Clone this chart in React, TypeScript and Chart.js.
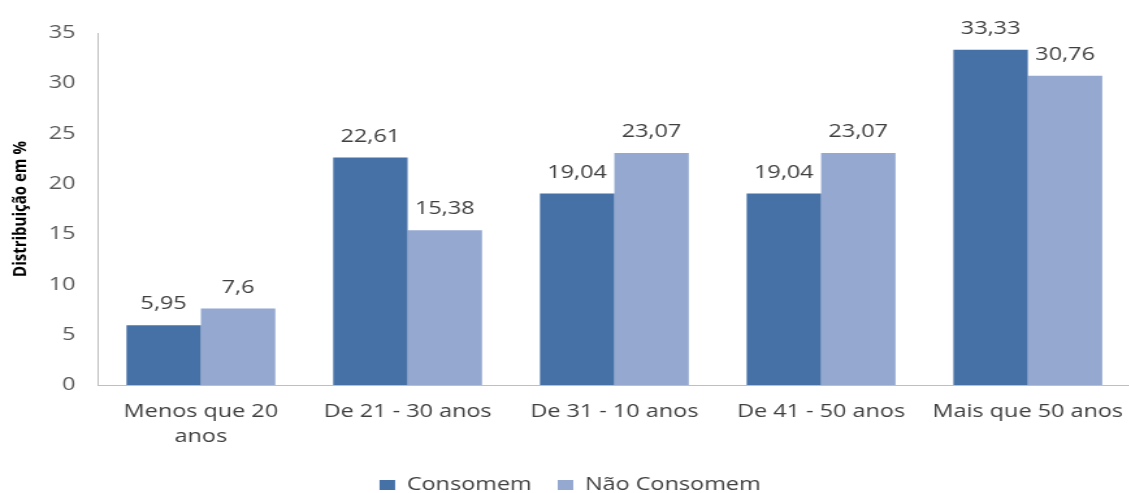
import React, { useEffect, useRef } from "react";
import { Chart, registerables } from "chart.js";

Chart.register(...registerables);

// Age groups on the x axis
const categories: (string | string[])[] = [
  ["Menos que 20", "anos"],
  "De 21 - 30 anos",
  "De 31 - 10 anos",
  "De 41 - 50 anos",
  "Mais que 50 anos",
];

// Share of each group (%)
const consomem = [5.95, 22.61, 19.04, 19.04, 33.33];
const naoConsomem = [7.6, 15.38, 23.07, 23.07, 30.76];

const seriesNames = ["Consomem", "Não Consomem"];
const yAxisTitle = "Distribuição em %";
const yMin = 0;
const yMax = 35;
const yStep = 5;

const FONT = "'Open Sans', sans-serif";
const STRETCH = 1.3; // horizontal stretch applied to the whole drawing
const CANVAS_W = 878;
const CANVAS_H = 504;

const fmt = (v: number) => String(v).replace(".", ",");

// Writes each bar's value above it
const valueLabels = {
  id: "valueLabels",
  afterDatasetsDraw(chart: any) {
    const { ctx } = chart;
    ctx.save();
    ctx.font = `18px ${FONT}`;
    ctx.fillStyle = "#404040";
    ctx.textAlign = "center";
    ctx.textBaseline = "middle";
    chart.data.datasets.forEach((ds: any, i: number) => {
      const meta = chart.getDatasetMeta(i);
      meta.data.forEach((bar: any, j: number) => {
        ctx.fillText(fmt(ds.data[j]), bar.x, bar.y - 21);
      });
    });
    ctx.restore();
  },
};

export default function App() {
  const ref = useRef<HTMLCanvasElement>(null);

  useEffect(() => {
    if (!ref.current) return;
    const chart = new Chart(ref.current, {
      type: "bar",
      data: {
        labels: categories,
        datasets: [
          {
            label: seriesNames[0],
            data: consomem,
            backgroundColor: "#4671A7",
            categoryPercentage: 0.72,
            barPercentage: 1,
          },
          {
            label: seriesNames[1],
            data: naoConsomem,
            backgroundColor: "#94A8D0",
            categoryPercentage: 0.72,
            barPercentage: 1,
          },
        ],
      },
      options: {
        animation: false,
        responsive: false,
        devicePixelRatio: 1,
        layout: { padding: { top: 33, left: 0, right: 1, bottom: 0 } },
        plugins: {
          tooltip: { enabled: false },
          legend: {
            position: "bottom",
            labels: {
              boxWidth: 12,
              boxHeight: 10,
              padding: 20,
              color: "#404040",
              font: { family: FONT, size: 18 },
            },
          },
        },
        scales: {
          x: {
            grid: { display: false, drawTicks: false },
            border: { display: true, color: "#BFBFBF", width: 1 },
            ticks: {
              color: "#404040",
              font: { family: FONT, size: 18, lineHeight: 1.4 },
              padding: 14,
              maxRotation: 0,
              minRotation: 0,
              autoSkip: false,
            },
            afterFit(scale: any) {
              scale.height = 71;
            },
          },
          y: {
            min: yMin,
            max: yMax,
            grid: { display: false, drawTicks: false },
            border: { display: true, color: "#BFBFBF", width: 1 },
            ticks: {
              stepSize: yStep,
              color: "#595959",
              font: { family: FONT, size: 18 },
              padding: 17,
            },
            title: {
              display: true,
              text: yAxisTitle,
              color: "#000000",
              font: { family: FONT, size: 15, weight: "bold", lineHeight: 1.2 },
              padding: { top: 7, bottom: 0 },
            },
            afterFit(scale: any) {
              scale.width = 75;
            },
          },
        },
      },
      plugins: [valueLabels],
    });
    return () => chart.destroy();
  }, []);

  return (
    <div
      style={{
        position: "fixed",
        left: 0,
        top: 0,
        width: 1129,
        height: 493,
        overflow: "hidden",
        background: "#ffffff",
      }}
    >
      <canvas
        ref={ref}
        width={CANVAS_W}
        height={CANVAS_H}
        style={{
          display: "block",
          width: CANVAS_W,
          height: CANVAS_H,
          transform: `scaleX(${STRETCH})`,
          transformOrigin: "0 0",
        }}
      />
    </div>
  );
}
